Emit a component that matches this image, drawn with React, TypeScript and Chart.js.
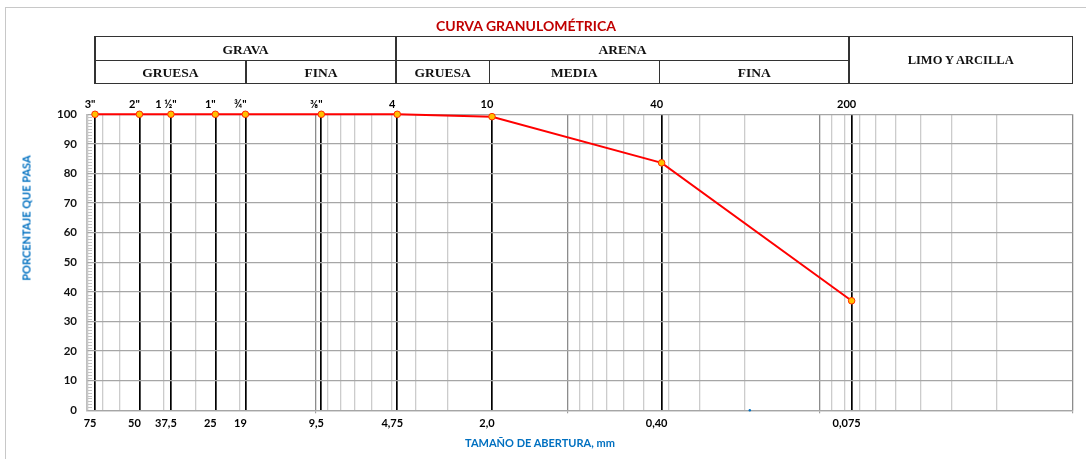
import React, { useEffect, useRef } from "react";
import { Chart, registerables } from "chart.js";

Chart.register(...registerables);

// ---- data ----
const sieveSizes = [75, 50, 37.5, 25, 19, 9.5, 4.75, 2.0, 0.425, 0.075];
const percentPassing = [100, 100, 100, 100, 100, 100, 100, 99.2, 83.6, 37.0];
const sieveNames = ['3"', '2"', '1 ½"', '1"', '¾"', '⅜"', "4", "10", "40", "200"];
const sizeLabels = ["75", "50", "37,5", "25", "19", "9,5", "4,75", "2,0", "0,40", "0,075"];
const strayX = [0.19];
const strayY = [0];
const soilGroups = ["GRAVA", "ARENA", "LIMO Y ARCILLA"];
const soilSubgroups = ["GRUESA", "FINA", "GRUESA", "MEDIA", "FINA"];
const chartTitle = "CURVA GRANULOMÉTRICA";
const yTitle = "PORCENTAJE QUE PASA";
const xTitle = "TAMAÑO DE ABERTURA, mm";
const xMin = 0.01;
const xMax = 80.7;

// ---- helpers ----
const near = (a: number, b: number) => Math.abs(a - b) <= Math.abs(b) * 1e-6;
const findSieve = (v: number) => sieveSizes.findIndex((s) => near(v, s));
const isDecade = (v: number) => {
  const l = Math.log10(v);
  return Math.abs(l - Math.round(l)) < 1e-9;
};

const gridValues: number[] = [];
for (let e = -2; e <= 1; e++) {
  for (let k = 1; k <= 9; k++) {
    const v = +(k * Math.pow(10, e)).toPrecision(6);
    if (v >= xMin && v <= xMax) gridValues.push(v);
  }
}
const xTickValues = Array.from(new Set([...gridValues, ...sieveSizes])).sort((a, b) => a - b);
const sieveTickValues = [...sieveSizes].sort((a, b) => a - b);

const rulerPlugin = {
  id: "ruler",
  beforeDatasetsDraw(chart: any) {
    const y = chart.scales.y;
    const left = chart.chartArea.left;
    const ctx = chart.ctx;
    ctx.save();
    ctx.strokeStyle = "#c4c4c4";
    ctx.lineWidth = 1;
    for (let v = 1; v < 100; v++) {
      if (v % 10 === 0) continue;
      const py = Math.round(y.getPixelForValue(v)) + 0.5;
      ctx.beginPath();
      ctx.moveTo(left + 1, py);
      ctx.lineTo(left + 5, py);
      ctx.stroke();
    }
    ctx.restore();
  },
};

const labelFont = { family: "Lato", size: 11, weight: "bold" as const };

export default function App() {
  const canvasRef = useRef<HTMLCanvasElement | null>(null);

  useEffect(() => {
    if (!canvasRef.current) return;
    const chart = new Chart(canvasRef.current, {
      type: "scatter",
      data: {
        datasets: [
          {
            data: sieveSizes.map((x, i) => ({ x, y: percentPassing[i] })),
            showLine: true,
            borderColor: "#ff0000",
            borderWidth: 2,
            pointRadius: 3.3,
            pointBackgroundColor: "#ffc000",
            pointBorderColor: "#ff2a00",
            pointBorderWidth: 1,
            clip: false as any,
          },
          {
            data: strayX.map((x, i) => ({ x, y: strayY[i] })),
            showLine: false,
            pointRadius: 1.2,
            pointBackgroundColor: "#0070c0",
            pointBorderColor: "#0070c0",
            pointBorderWidth: 0,
            clip: false as any,
          },
        ],
      },
      options: {
        responsive: false,
        maintainAspectRatio: false,
        animation: false,
        layout: { padding: { left: 47, right: 13.7, top: 89.3, bottom: 28.7 } },
        plugins: { legend: { display: false }, tooltip: { enabled: false }, title: { display: false } },
        scales: {
          x: {
            type: "logarithmic",
            position: "bottom",
            reverse: true,
            min: xMin,
            max: xMax,
            afterBuildTicks: (s: any) => {
              s.ticks = xTickValues.map((v) => ({ value: v }));
            },
            afterFit: (s: any) => {
              s.height = 20;
            },
            ticks: {
              autoSkip: false,
              maxRotation: 0,
              minRotation: 0,
              padding: 3.5,
              labelOffset: -5,
              font: labelFont,
              color: "#000",
              callback: (v: any) => {
                const i = findSieve(Number(v));
                return i >= 0 ? sizeLabels[i] : "";
              },
            },
            grid: {
              color: (ctx: any) => {
                const v = ctx.tick ? ctx.tick.value : NaN;
                if (findSieve(v) >= 0) return "#000";
                if (isDecade(v)) return "#8c8c8c";
                return "#cccccc";
              },
              lineWidth: (ctx: any) => {
                const v = ctx.tick ? ctx.tick.value : NaN;
                return findSieve(v) >= 0 ? 1.7 : 1.3;
              },
              drawTicks: true,
              tickLength: 3,
              tickWidth: 1,
              tickColor: (ctx: any) => {
                const v = ctx.tick ? ctx.tick.value : NaN;
                return isDecade(v) ? "#8c8c8c" : "rgba(0,0,0,0)";
              },
            },
            border: { display: true, color: "#a6a6a6", width: 1.3 },
          },
          x2: {
            type: "logarithmic",
            position: "top",
            reverse: true,
            min: xMin,
            max: xMax,
            afterBuildTicks: (s: any) => {
              s.ticks = sieveTickValues.map((v) => ({ value: v }));
            },
            afterFit: (s: any) => {
              s.height = 25;
            },
            ticks: {
              autoSkip: false,
              maxRotation: 0,
              minRotation: 0,
              padding: 3.5,
              labelOffset: -5,
              font: labelFont,
              color: "#000",
              callback: (v: any) => {
                const i = findSieve(Number(v));
                return i >= 0 ? sieveNames[i] : "";
              },
            },
            grid: { display: false, drawTicks: false },
            border: { display: false },
          },
          y: {
            type: "linear",
            position: "left",
            min: 0,
            max: 100,
            afterFit: (s: any) => {
              s.width = 40;
            },
            ticks: {
              stepSize: 10,
              padding: 10,
              font: { family: "Lato", size: 11.5, weight: "bold" as const },
              color: "#111",
            },
            grid: { color: "#a6a6a6", lineWidth: 1.3, drawTicks: false },
            border: { display: true, color: "#bfbfbf", width: 1.3 },
          },
        },
      } as any,
      plugins: [rulerPlugin],
    });
    return () => chart.destroy();
  }, []);

  // header table geometry
  const tL = 95, tR = 1072.3, tT = 36.7, tM = 60.7, tB = 83.3;
  const cols = [95, 246, 396, 489.3, 659.3, 849];
  const lineColor = "#333";
  const lw = 1.5;
  const hLine = (x1: number, x2: number, y: number, key: string) => (
    <div key={key} style={{ position: "absolute", left: x1 - lw / 2, top: y - lw / 2, width: x2 - x1 + lw, height: lw, background: lineColor }} />
  );
  const vLine = (x: number, y1: number, y2: number, key: string) => (
    <div key={key} style={{ position: "absolute", left: x - lw / 2, top: y1 - lw / 2, width: lw, height: y2 - y1 + lw, background: lineColor }} />
  );
  const cellText = (text: string, x1: number, x2: number, y1: number, y2: number, key: string, size = 13.5) => (
    <div
      key={key}
      style={{
        position: "absolute",
        left: x1,
        top: y1 + 1,
        width: x2 - x1,
        height: y2 - y1,
        display: "flex",
        alignItems: "center",
        justifyContent: "center",
        fontFamily: "'Liberation Serif', serif",
        fontWeight: "bold",
        fontSize: size,
        color: "#111",
        whiteSpace: "nowrap",
      }}
    >
      {text}
    </div>
  );

  const blueTitle: React.CSSProperties = {
    position: "absolute",
    fontFamily: "Lato, sans-serif",
    fontWeight: "bold",
    fontSize: 11,
    color: "#0070c0",
    whiteSpace: "nowrap",
    lineHeight: 1,
  };

  return (
    <div style={{ position: "fixed", left: 0, top: 0, width: 1086, height: 459, background: "#fff", overflow: "hidden" }}>
      <div style={{ position: "absolute", left: 5, top: 7, width: 1120, height: 480, border: "1.5px solid #c8c8c8", boxSizing: "border-box" }} />
      <canvas ref={canvasRef} width={1086} height={459} style={{ position: "absolute", left: 0, top: 0 }} />
      <div
        style={{
          position: "absolute",
          left: 526,
          top: 25.7,
          transform: "translate(-50%, -50%)",
          fontFamily: "Lato, sans-serif",
          fontWeight: "bold",
          fontSize: 14,
          color: "#c00000",
          whiteSpace: "nowrap",
          lineHeight: 1,
        }}
      >
        {chartTitle}
      </div>
      {hLine(tL, tR, tT, "h1")}
      {hLine(tL, cols[5], tM, "h2")}
      {hLine(tL, tR, tB, "h3")}
      {vLine(tL, tT, tB, "v0")}
      {vLine(cols[2], tT, tB, "v2")}
      {vLine(cols[5], tT, tB, "v5")}
      {vLine(tR, tT, tB, "v6")}
      {vLine(cols[1], tM, tB, "v1")}
      {vLine(cols[3], tM, tB, "v3")}
      {vLine(cols[4], tM, tB, "v4")}
      {cellText(soilGroups[0], cols[0], cols[2], tT, tM, "g0")}
      {cellText(soilGroups[1], cols[2], cols[5], tT, tM, "g1")}
      {cellText(soilGroups[2], cols[5], tR, tT, tB, "g2", 12.5)}
      {soilSubgroups.map((s, i) => cellText(s, cols[i], cols[i + 1], tM, tB, "s" + i))}
      <div style={{ ...blueTitle, left: 25.5, top: 218, transform: "translate(-50%, -50%) rotate(-90deg)" }}>{yTitle}</div>
      <div style={{ ...blueTitle, left: 540, top: 441.7, transform: "translate(-50%, -50%)" }}>{xTitle}</div>
    </div>
  );
}
